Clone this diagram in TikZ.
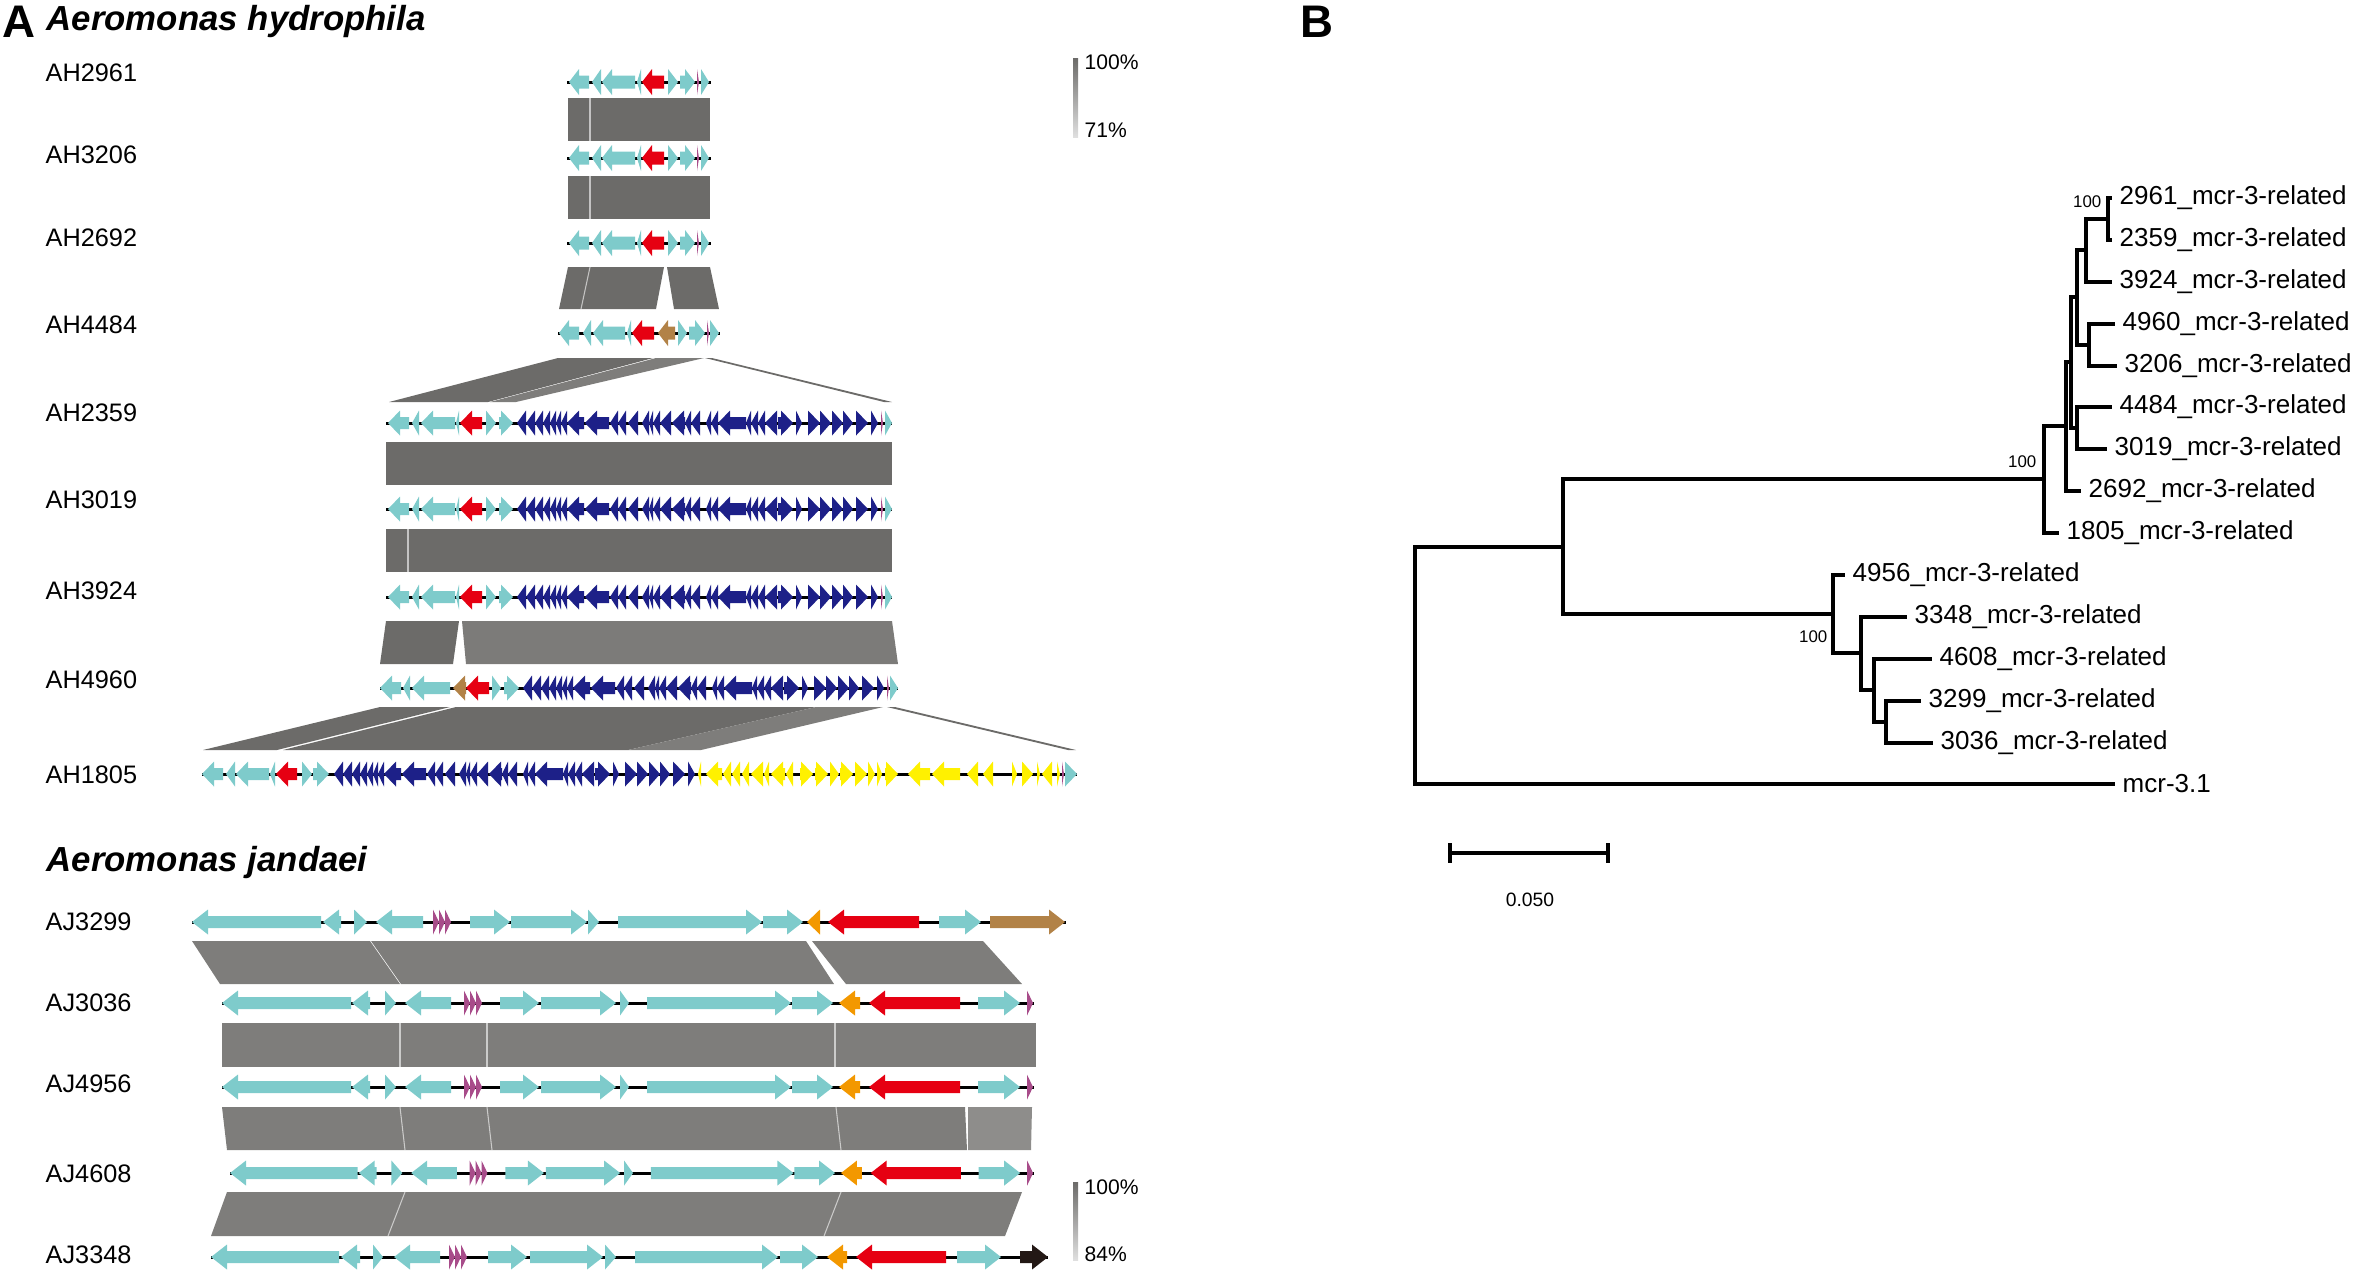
\documentclass[tikz,border=0pt]{standalone}
\usepackage{fontspec}
\setmainfont{Liberation Sans}
\usetikzlibrary{calc}

\definecolor{cgene}{HTML}{7ECBCB}
\definecolor{rgene}{HTML}{E60012}
\definecolor{bgene}{HTML}{1D2088}
\definecolor{ygene}{HTML}{FFF100}
\definecolor{brgene}{HTML}{B28247}
\definecolor{ogene}{HTML}{F39800}
\definecolor{mgene}{HTML}{A84C8A}
\definecolor{kgene}{HTML}{231815}
\definecolor{blkdark}{HTML}{6C6B69}
\definecolor{blkmid}{HTML}{7E7D7B}
\definecolor{blklight}{HTML}{8E8D8B}

% gene arrow: start, end, y, direction (1 right, -1 left), colour
\newcommand\gene[5]{%
  \pgfmathsetmacro\gA{#1}\pgfmathsetmacro\gB{#2}%
  \pgfmathsetmacro\gH{min(\headlen,\gB-\gA)}%
  \ifnum#4>0
    \fill[#5] (\gA,#3-\bodyh) -- (\gB-\gH,#3-\bodyh) -- (\gB-\gH,#3-\arrh) -- (\gB,#3) -- (\gB-\gH,#3+\arrh) -- (\gB-\gH,#3+\bodyh) -- (\gA,#3+\bodyh) -- cycle;
  \else
    \fill[#5] (\gB,#3-\bodyh) -- (\gA+\gH,#3-\bodyh) -- (\gA+\gH,#3-\arrh) -- (\gA,#3) -- (\gA+\gH,#3+\arrh) -- (\gA+\gH,#3+\bodyh) -- (\gB,#3+\bodyh) -- cycle;
  \fi}

\begin{document}
\begin{tikzpicture}[x=0.1mm,y=-0.1mm,
    panel/.style={anchor=west,inner sep=0pt,font=\fontsize{13}{14}\selectfont\bfseries},
    species/.style={anchor=west,inner sep=0pt,font=\fontsize{9.9}{11}\selectfont\bfseries\itshape},
    strain/.style={anchor=west,inner sep=0pt,font=\fontsize{7.2}{8}\selectfont},
    pct/.style={anchor=west,inner sep=0pt,font=\fontsize{6}{7}\selectfont},
    leaf/.style={anchor=west,inner sep=0pt,xshift=0.9mm,font=\fontsize{7.4}{8}\selectfont},
    boot/.style={anchor=east,inner sep=0pt,font=\fontsize{4.8}{5}\selectfont},
    branch/.style={line width=1pt,line cap=rect},
    bb/.style={line width=0.3mm,black},
    wline/.style={white,line width=0.3pt,opacity=0.6}]
  \path[use as bounding box] (0,0) rectangle (2354,1279);

  \node[panel] (pA) at (2,22) {A};
  \node[species] (spH) at (46,21) {Aeromonas hydrophila};
  \node[species] (spJ) at (46,862) {Aeromonas jandaei};
  \node[panel] (pB) at (1300,22) {B};

  \foreach \s/\y in {AH2961/73,AH3206/155,AH2692/238,AH4484/325,AH2359/413,AH3019/500,AH3924/591,AH4960/680,AH1805/775,
                     AJ3299/922,AJ3036/1003,AJ4956/1084,AJ4608/1174,AJ3348/1255}{
    \node[strain] (\s) at (45,\y) {\s};
  }

  % identity scales
  \shade[top color=blkdark,bottom color=gray!25] (1073,58) rectangle (1078,137);
  \node[pct] (hi1) at (1084,62) {100\%};
  \node[pct] (lo1) at (1084,130) {71\%};
  \shade[top color=blkdark,bottom color=gray!25] (1073,1182) rectangle (1078,1260);
  \node[pct] (hi2) at (1084,1187) {100\%};
  \node[pct] (lo2) at (1084,1254) {84\%};

  % comparison blocks, hydrophila
  \fill[blkdark] (568,98) rectangle (710,141);
  \draw[wline] (590,98) -- (590,141);
  \fill[blkdark] (568,176) rectangle (710,219);
  \draw[wline] (590,176) -- (590,219);
  \fill[blkdark] (568,267) -- (664,267) -- (656,309) -- (559,309) -- cycle;
  \fill[blkdark] (667,267) -- (710,267) -- (719,309) -- (674,309) -- cycle;
  \draw[wline] (590,267) -- (581,309);
  \fill[blkdark] (558,358) -- (653,358) -- (488,402) -- (389,402) -- cycle;
  \fill[blkmid] (656,358) -- (704,358) -- (516,402) -- (490,402) -- cycle;
  \fill[blkdark] (705,358) -- (712,358) -- (892,402) -- (884,402) -- cycle;
  \fill[blkdark] (386,442) rectangle (892,485);
  \fill[blkdark] (386,529) rectangle (892,572);
  \draw[wline] (408,529) -- (408,572);
  \fill[blkdark] (386,621) -- (459,621) -- (453,664) -- (380,664) -- cycle;
  \fill[blkmid!90!blkdark] (462,621) -- (892,621) -- (898,664) -- (466,664) -- cycle;
  \fill[blkdark] (380,707) -- (450,707) -- (277,750) -- (203,750) -- cycle;
  \fill[blkdark] (456,707) -- (816,707) -- (628,750) -- (283,750) -- cycle;
  \fill[blkmid] (816,707) -- (883,707) -- (701,750) -- (628,750) -- cycle;
  \fill[blkdark] (887,707) -- (895,707) -- (1076,750) -- (1068,750) -- cycle;

  % comparison blocks, jandaei
  \fill[blkmid] (192,941) -- (370,941) -- (400,984) -- (220,984) -- cycle;
  \fill[blkmid] (371,941) -- (806,941) -- (834,984) -- (401,984) -- cycle;
  \fill[blkmid] (812,941) -- (983,941) -- (1022,984) -- (846,984) -- cycle;
  \fill[blkmid] (222,1023) rectangle (1036,1067);
  \foreach \x in {400,487,835}{
    \draw[wline] (\x,1023) -- (\x,1067);
  }
  \fill[blkmid] (222,1107) -- (965,1107) -- (967,1150) -- (227,1150) -- cycle;
  \fill[blklight] (968,1107) -- (1032,1107) -- (1031,1150) -- (968,1150) -- cycle;
  \foreach \x in {400,487,836}{
    \draw[wline] (\x,1107) -- (\x+5,1150);
  }
  \fill[blkmid] (227,1192) -- (1022,1192) -- (1005,1236) -- (211,1236) -- cycle;
  \draw[wline] (405,1192) -- (388,1236);
  \draw[wline] (841,1192) -- (824,1236);

  % gene maps, hydrophila
  \def\headlen{10}\def\arrh{13}\def\bodyh{6.5}
  \foreach \y in {82,158,243}{
    \draw[bb] (567,\y) -- (711,\y);
    \foreach \a/\b/\d/\c in {569/589/-1/cgene,592/601/-1/cgene,602/635/-1/cgene,637/641/-1/cgene,642/664/-1/rgene,
                             668/678/1/cgene,680/695/1/cgene,697/699/1/mgene,701/709/1/cgene}{
      \gene{\a}{\b}{\y}{\d}{\c}
    }
  }
  \draw[bb] (558,333) -- (720,333);
  \foreach \a/\b/\d/\c in {559/579/-1/cgene,583/591/-1/cgene,593/625/-1/cgene,627/631/-1/cgene,632/654/-1/rgene,
                           658/675/-1/brgene,678/687/1/cgene,689/705/1/cgene,707/709/1/mgene,710/719/1/cgene}{
    \gene{\a}{\b}{333}{\d}{\c}
  }

  \def\headlen{12}\def\arrh{12.5}\def\bodyh{6}
  \def\blues{517/526/-1,526/535/-1,535/543/-1,543/550/-1,550/556/-1,556/561/-1,561/567/-1,567/584/-1,585/609/-1,
             610/618/-1,618/626/-1,628/638/-1,642/649/-1,649/653/-1,653/660/-1,660/671/-1,672/685/-1,685/691/-1,
             691/700/-1,706/711/-1,711/718/-1,718/746/-1,746/751/-1,751/758/-1,758/765/-1,765/777/-1,778/793/1,
             796/802/1,808/820/1,820/831/1,832/843/1,843/853/1,856/868/1,871/878/1}
  \foreach \y in {423,509,597}{
    \draw[bb] (386,\y) -- (892,\y);
    \foreach \a/\b/\d/\c in {388/409/-1/cgene,412/419/-1/cgene,421/455/-1/cgene,456/459/-1/cgene,460/482/-1/rgene,
                             486/496/1/cgene,499/513/1/cgene,881/883/1/mgene,885/892/1/cgene}{
      \gene{\a}{\b}{\y}{\d}{\c}
    }
    \foreach \a/\b/\d in \blues{
      \gene{\a}{\b}{\y}{\d}{bgene}
    }
  }
  \draw[bb] (380,688) -- (898,688);
  \foreach \a/\b/\d/\c in {380/401/-1/cgene,403/410/-1/cgene,412/450/-1/cgene,453/466/-1/brgene,466/489/-1/rgene,
                           492/501/1/cgene,504/519/1/cgene,887/889/1/mgene,890/898/1/cgene}{
    \gene{\a}{\b}{688}{\d}{\c}
  }
  \foreach \a/\b/\d in \blues{
    \gene{\a+6}{\b+6}{688}{\d}{bgene}
  }

  \draw[bb] (202,774) -- (1077,774);
  \foreach \a/\b/\d/\c in {202/223/-1/cgene,226/235/-1/cgene,236/269/-1/cgene,270/275/-1/cgene,276/297/-1/rgene,
                           302/312/1/cgene,313/329/1/cgene,1062/1064/1/mgene,1065/1077/1/cgene}{
    \gene{\a}{\b}{774}{\d}{\c}
  }
  \foreach \a/\b/\d in \blues{
    \gene{\a-183}{\b-183}{774}{\d}{bgene}
  }
  \foreach \a/\b/\d in {698/701/-1,706/722/-1,723/731/-1,732/740/-1,742/749/-1,751/763/-1,764/769/-1,771/785/-1,
                        786/793/-1,800/813/1,815/828/1,830/839/1,840/853/1,855/867/1,868/875/1,877/882/1,885/898/1,
                        908/930/-1,932/960/-1,967/978/-1,983/993/-1,1012/1017/1,1022/1033/1,1037/1040/1,
                        1042/1052/-1,1057/1060/1}{
    \gene{\a}{\b}{774}{\d}{ygene}
  }

  % gene maps, jandaei
  \def\headlen{16}
  \draw[bb] (192,922) -- (1066,922);
  \foreach \a/\b/\d/\c in {192/321/-1/cgene,323/341/-1/cgene,354/367/1/cgene,376/423/-1/cgene,433/439/1/mgene,
                           439/445/1/mgene,445/451/1/mgene,470/510/1/cgene,511/587/1/cgene,588/599/1/cgene,
                           618/762/1/cgene,763/803/1/cgene,807/820/-1/ogene,828/919/-1/rgene,939/981/1/cgene,
                           990/1065/1/brgene}{
    \gene{\a}{\b}{922}{\d}{\c}
  }
  \foreach \y/\dx in {1003/0,1087/0,1173/8}{
    \draw[bb] (222+\dx,\y) -- (1034,\y);
    \foreach \a/\b/\d/\c in {222/351/-1/cgene,352/370/-1/cgene,385/396/1/cgene,405/451/-1/cgene,464/470/1/mgene,
                             470/476/1/mgene,476/482/1/mgene,500/539/1/cgene,541/616/1/cgene,620/629/1/cgene,
                             647/791/1/cgene,792/833/1/cgene,839/860/-1/ogene,869/960/-1/rgene,978/1020/1/cgene,
                             1027/1033/1/mgene}{
      \gene{\a+\dx*(1040-\a)/818}{\b+\dx*(1040-\b)/818}{\y}{\d}{\c}
    }
  }
  \draw[bb] (211,1257) -- (1048,1257);
  \foreach \a/\b/\d/\c in {211/339/-1/cgene,341/360/-1/cgene,373/383/1/cgene,394/440/-1/cgene,449/455/1/mgene,
                           455/461/1/mgene,461/467/1/mgene,488/527/1/cgene,530/603/1/cgene,605/616/1/cgene,
                           635/778/1/cgene,780/818/1/cgene,827/847/-1/ogene,856/946/-1/rgene,957/1001/1/cgene,
                           1020/1048/1/kgene}{
    \gene{\a}{\b}{1257}{\d}{\c}
  }

  % tree
  \coordinate (n1) at (2108,219);
  \coordinate (n2) at (2086,250);
  \coordinate (n3) at (2077,297);
  \coordinate (n4) at (2089,345);
  \coordinate (n5) at (2077,428);
  \coordinate (n6) at (2071,362);
  \coordinate (n7) at (2066,426);
  \coordinate (n8) at (2044,479);
  \coordinate (n9) at (1886,722);
  \coordinate (n10) at (1874,690);
  \coordinate (n11) at (1861,653);
  \coordinate (n12) at (1833,614);
  \coordinate (n13) at (1563,547);
  \coordinate (root) at (1415,665);
  \foreach \s/\x/\y in {2961/2110/198,2359/2110/240,3924/2110/282,4960/2113/324,3206/2115/366,4484/2110/407,
                        3019/2105/449,2692/2079/491,1805/2057/533,4956/1843/575,3348/1905/617,4608/1930/659,
                        3299/1919/701,3036/1931/743}{
    \coordinate (t\s) at (\x,\y);
    \node[leaf] (l\s) at (t\s) {\s\_mcr-3-related};
  }
  \coordinate (tmcr) at (2113,784);
  \node[leaf] (lmcr) at (tmcr) {mcr-3.1};

  \draw[branch] (n1) |- (t2961);
  \draw[branch] (n1) |- (t2359);
  \draw[branch] (n2) |- (n1);
  \draw[branch] (n2) |- (t3924);
  \draw[branch] (n4) |- (t4960);
  \draw[branch] (n4) |- (t3206);
  \draw[branch] (n3) |- (n2);
  \draw[branch] (n3) |- (n4);
  \draw[branch] (n5) |- (t4484);
  \draw[branch] (n5) |- (t3019);
  \draw[branch] (n6) |- (n3);
  \draw[branch] (n6) |- (n5);
  \draw[branch] (n7) |- (n6);
  \draw[branch] (n7) |- (t2692);
  \draw[branch] (n8) |- (n7);
  \draw[branch] (n8) |- (t1805);
  \draw[branch] (n9) |- (t3299);
  \draw[branch] (n9) |- (t3036);
  \draw[branch] (n10) |- (t4608);
  \draw[branch] (n10) |- (n9);
  \draw[branch] (n11) |- (t3348);
  \draw[branch] (n11) |- (n10);
  \draw[branch] (n12) |- (t4956);
  \draw[branch] (n12) |- (n11);
  \draw[branch] (n13) |- (n8);
  \draw[branch] (n13) |- (n12);
  \draw[branch] (root) |- (n13);
  \draw[branch] (root) |- (tmcr);

  \node[boot] (b1) at (2102,202) {100};
  \node[boot] (b2) at (2037,462) {100};
  \node[boot] (b3) at (1828,637) {100};

  \coordinate (sbL) at (1450,853);
  \coordinate (sbR) at (1608,853);
  \draw[branch] (sbL) -- (sbR);
  \draw[branch] ($(sbL)+(0,-8)$) -- ($(sbL)+(0,8)$);
  \draw[branch] ($(sbR)+(0,-8)$) -- ($(sbR)+(0,8)$);
  \node[inner sep=0pt,font=\fontsize{5.5}{6}\selectfont] (sbT) at (1530,900) {0.050};
\end{tikzpicture}
\end{document}
